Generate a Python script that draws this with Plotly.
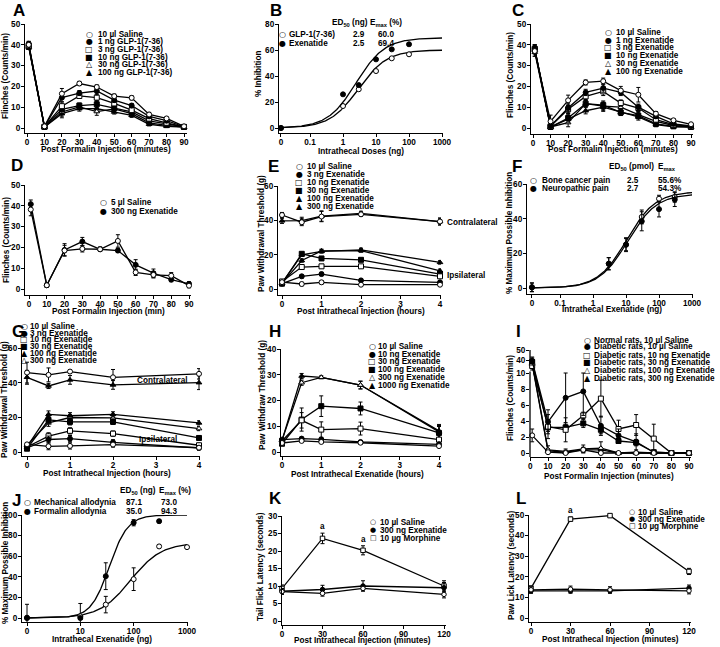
import numpy as np
import plotly.graph_objects as go

W, H = 720, 647
FONT = "Liberation Sans, Arial, Helvetica, sans-serif"
GFONT = "DejaVu Sans, Liberation Sans, sans-serif"
FS = 8.2

# ====================== DATA ======================
# --- A: GLP-1(7-36), formalin test ---
A_TIME = [1, 10, 20, 30, 40, 50, 60, 70, 80, 90]
A_LABELS = ["10 µl Saline", "1 ng GLP-1(7-36)", "3 ng GLP-1(7-36)",
            "10 ng GLP-1(7-36)", "30 ng GLP-1(7-36)", "100 ng GLP-1(7-36)"]
A_SALINE = [40.0, 0.8, 16.5, 21.4, 19.7, 15.3, 14.5, 6.5, 4.6, 0.8]
A_GLP1 = [40.5, 0.6, 14.6, 16.8, 17.8, 13.4, 10.8, 5.6, 3.5, 0.6]
A_GLP3 = [39.5, 0.6, 10.5, 15.4, 14.6, 11.8, 8.6, 4.5, 2.5, 0.5]
A_GLP10 = [39.0, 0.5, 9.0, 10.8, 11.4, 9.6, 7.7, 3.4, 1.8, 0.5]
A_GLP30 = [40.0, 0.5, 7.7, 10.1, 7.9, 9.2, 6.9, 2.5, 1.3, 0.4]
A_GLP100 = [39.0, 0.4, 6.9, 9.3, 9.3, 7.7, 6.1, 1.8, 0.8, 0.4]
A_SEM_SALINE = [1.5, 0.5, 2.5, 1.0, 1.0, 1.0, 1.0, 1.0, 0.6, 0.4]
A_SEM_GLP = [1.2, 0.4, 2.0, 1.2, 1.8, 1.0, 1.0, 0.8, 0.6, 0.4]

# --- B: dose response (formalin) ---
B_DOSE = [0, 1, 3, 10, 30, 100]
B_LABELS = ["GLP-1(7-36)", "Exenatide"]
B_GLP = [0, 16.9, 29.8, 43.8, 53.6, 56.7]
B_EXE = [0, 25.9, 33.0, 52.8, 60.5, 64.4]
B_ED50 = [2.9, 2.5]
B_EMAX = [60.0, 69.4]
B_HILL = [1.0, 1.0]

# --- C: exenatide, formalin test ---
C_TIME = [1, 10, 20, 30, 40, 50, 60, 70, 80, 90]
C_LABELS = ["10 µl Saline", "1 ng Exenatide", "3 ng Exenatide",
            "10 ng Exenatide", "30 ng Exenatide", "100 ng Exenatide"]
C_SALINE = [37.0, 3.2, 13.3, 21.9, 22.5, 18.0, 16.0, 6.9, 3.7, 1.8]
C_EX1 = [38.0, 1.0, 9.6, 17.1, 19.2, 17.1, 10.0, 5.6, 2.0, 1.0]
C_EX3 = [38.0, 0.8, 9.0, 15.2, 17.6, 12.0, 9.6, 4.0, 1.6, 0.8]
C_EX10 = [38.0, 0.5, 4.8, 11.7, 11.0, 7.5, 5.9, 2.0, 0.8, 0.5]
C_EX30 = [37.5, 0.5, 2.6, 11.7, 10.5, 10.0, 6.4, 3.2, 1.2, 0.5]
C_EX100 = [36.5, 0.4, 4.3, 8.3, 10.0, 7.5, 5.3, 1.6, 0.6, 0.4]
C_SEM_SALINE = [2.5, 3.0, 2.5, 1.2, 1.5, 2.0, 3.5, 1.0, 0.8, 0.5]
C_SEM_EX = [2.0, 1.0, 2.0, 1.5, 2.0, 1.5, 1.5, 1.0, 0.8, 0.5]

# --- D ---
D_TIME = [1, 10, 20, 30, 40, 50, 60, 70, 80, 90]
D_LABELS = ["5 µl Saline", "300 ng Exenatide"]
D_SALINE = [38.2, 1.8, 18.5, 19.3, 19.1, 23.1, 8.0, 6.8, 6.4, 1.6]
D_EXE = [40.8, 1.8, 18.8, 22.8, 19.1, 18.5, 11.6, 7.6, 4.5, 2.5]
D_SEM_SALINE = [3.0, 1.0, 2.5, 1.5, 1.0, 3.0, 1.5, 1.5, 1.5, 1.0]
D_SEM_EXE = [2.0, 1.0, 3.0, 2.0, 1.0, 1.0, 2.5, 2.0, 1.0, 1.0]

# --- E: bone cancer pain, von Frey ---
E_TIME = [0, 0.5, 1, 2, 4]
E_LABELS = ["10 µl Saline", "3 ng Exenatide", "10 ng Exenatide",
            "30 ng Exenatide", "100 ng Exenatide", "300 ng Exenatide"]
E_CONTRA_SALINE = [43.1, 38.9, 42.2, 43.5, 39.3]
E_CONTRA_EX300 = [39.7, 39.8, 42.5, 44.1, 39.3]
E_SEM_CONTRA = [1.5, 2.0, 3.0, 1.2, 2.0]
E_SALINE = [4.0, 2.9, 3.9, 2.5, 2.5]
E_EX3 = [3.1, 7.4, 8.7, 5.0, 3.9]
E_EX10 = [4.4, 12.8, 13.2, 13.2, 7.4]
E_EX30 = [3.1, 20.5, 17.8, 17.0, 8.7]
E_EX100 = [3.3, 16.6, 22.2, 22.4, 10.6]
E_EX300 = [3.5, 19.9, 21.9, 22.8, 15.5]
E_SEM_IPSI = [0.8, 1.0, 1.0, 1.0, 1.0]

# --- F: dose response (bone cancer / neuropathic) ---
F_DOSE = [0, 3, 10, 30, 100, 300]
F_LABELS = ["Bone cancer pain", "Neuropathic pain"]
F_BONE = [0.5, 14.0, 25.0, 41.0, 51.5, 52.5]
F_NEURO = [0.3, 14.0, 25.0, 38.5, 45.5, 51.0]
F_SEM_BONE = [2.5, 3.5, 3.5, 4.0, 2.0, 3.0]
F_SEM_NEURO = [2.5, 3.5, 4.0, 5.5, 4.5, 4.0]
F_ED50_PMOL = [2.5, 2.7]
F_EMAX = [55.6, 54.3]
F_HILL = [1.0, 1.0]
EXENATIDE_NG_PER_PMOL = 4.19

# --- G: neuropathic pain, von Frey ---
G_TIME = [0, 0.5, 1, 2, 4]
G_LABELS = E_LABELS
G_CONTRA_SALINE = [45.8, 44.5, 46.4, 43.1, 45.1]
G_CONTRA_EX100 = [43.1, 38.1, 41.6, 38.7, 40.0]
G_SEM_CONTRA_SAL = [6.0, 4.0, 1.0, 4.5, 3.0]
G_SEM_CONTRA_EX = [4.0, 1.5, 2.5, 2.5, 4.0]
G_SALINE = [4.4, 3.3, 3.5, 4.3, 2.5]
G_EX3 = [2.3, 7.2, 7.7, 5.6, 2.3]
G_EX10 = [2.9, 9.1, 12.2, 10.6, 3.9]
G_EX30 = [1.9, 18.5, 17.4, 17.4, 8.1]
G_EX100 = [2.9, 21.7, 20.9, 21.7, 16.8]
G_EX300 = [3.9, 16.8, 19.9, 19.7, 13.5]
G_SEM_IPSI = [1.0, 2.0, 1.8, 1.5, 1.2]

# --- H ---
H_TIME = [0, 0.5, 1, 2, 4]
H_LABELS = ["10 µl Saline", "10 ng Exenatide", "30 ng Exenatide",
            "100 ng Exenatide", "300 ng Exenatide", "1000 ng Exenatide"]
H_SALINE = [3.5, 4.3, 3.9, 3.6, 2.3]
H_EX10 = [4.8, 5.2, 4.9, 3.9, 3.0]
H_EX30 = [4.3, 12.3, 8.7, 9.1, 4.8]
H_EX100 = [3.2, 12.6, 17.8, 16.9, 7.4]
H_EX300 = [4.5, 26.9, 29.0, 26.0, 7.8]
H_EX1000 = [4.5, 29.5, 29.0, 26.0, 8.2]
H_SEM = [[0.5, 0.5, 0.5, 0.5, 0.5], [0.5, 0.5, 0.5, 0.5, 0.5],
         [0.5, 3.0, 3.0, 2.5, 2.5], [0.5, 4.5, 4.0, 2.5, 2.5],
         [0.5, 1.0, 0.5, 1.5, 2.5], [0.5, 1.0, 0.5, 1.5, 2.5]]

# --- I: diabetic rats, formalin ---
I_TIME = [1, 10, 20, 30, 40, 50, 60, 70, 80, 90]
I_LABELS = ["Normal rats, 10 µl Saline", "Diabetic rats, 10 µl Saline",
            "Diabetic rats, 10 ng Exenatide", "Diabetic rats, 30 ng Exenatide",
            "Diabetic rats, 100 ng Exenatide", "Diabetic rats, 300 ng Exenatide"]
I_NORMAL = [2.2, 0.1, 0.0, 0.4, 0.0, 0.0, 0.0, 0.0, 0.0, 0.0]
I_DIAB_SALINE = [39.0, 3.9, 6.9, 7.7, 3.4, 2.2, 1.4, 0.1, 0.0, 0.0]
I_EX10 = [34.0, 3.3, 2.9, 4.7, 6.8, 3.0, 3.5, 1.8, 0.0, 0.0]
I_EX30 = [38.0, 3.2, 3.2, 3.7, 2.9, 1.5, 1.3, 0.1, 0.0, 0.0]
I_EX100 = [37.0, 0.4, 0.2, 0.5, 0.6, 0.0, 0.1, 0.0, 0.0, 0.0]
I_EX300 = [36.0, 0.25, 0.1, 0.4, 0.4, 0.0, 0.0, 0.0, 0.0, 0.0]
I_SEM = [[0.8, 0.2, 0.2, 0.3, 0.2, 0, 0, 0, 0, 0],
         [4.0, 1.5, 3.1, 3.0, 1.2, 0.8, 1.0, 0.2, 0, 0],
         [4.0, 1.5, 1.5, 0.4, 2.3, 1.1, 1.3, 1.8, 0, 0],
         [4.0, 0.5, 0.4, 0.5, 0.5, 0.3, 0.4, 0.1, 0, 0],
         [4.0, 0.5, 0.3, 0.5, 0.8, 0, 0.1, 0, 0, 0],
         [4.0, 0.3, 0.2, 0.3, 0.3, 0, 0, 0, 0, 0]]

# --- J ---
J_LABELS = ["Mechanical allodynia", "Formalin allodynia"]
J_DOSE_MECH = [0, 10, 30, 100, 300, 1000]
J_MECH = [0.3, 1.6, 13.0, 37.7, 69.5, 68.8]
J_SEM_MECH = [13.0, 12.5, 8.0, 11.0, 1.5, 1.5]
J_DOSE_FORM = [0, 10, 30, 100, 300]
J_FORM = [0.0, 0.0, 40.6, 92.5, 94.0]
J_SEM_FORM = [1.0, 1.5, 13.0, 3.0, 1.5]
J_ED50 = [87.1, 35.0]
J_EMAX = [73.0, 94.3]
J_FIT_TOP = [73.0, 100.0]
J_HILL = [1.5, 2.5]

# --- K: tail flick ---
K_TIME = [0, 30, 60, 120]
K_LABELS = ["10 µl Saline", "300 ng Exenatide", "10 µg Morphine"]
K_SALINE = [8.4, 7.9, 9.3, 7.6]
K_EXE = [8.5, 9.0, 10.0, 9.5]
K_MORPH = [9.3, 23.6, 20.2, 10.0]
K_SEM = [[0.8, 0.8, 0.5, 1.0], [0.8, 1.2, 1.5, 1.5], [1.0, 1.5, 1.3, 1.5]]

# --- L: hot plate ---
L_TIME = [0, 30, 60, 120]
L_LABELS = K_LABELS
L_SALINE = [13.7, 14.0, 13.7, 13.2]
L_EXE = [13.2, 13.2, 13.2, 14.5]
L_MORPH = [14.5, 48.0, 49.7, 22.6]
L_SEM = [[1.5, 1.5, 1.5, 1.5], [1.2, 1.2, 1.2, 1.5], [1.0, 1.0, 0.5, 1.5]]

# ====================== STYLES ======================
OC, FC = ("circle", False), ("circle", True)
OS, FSQ = ("square", False), ("square", True)
OT, FT = ("triangle-up", False), ("triangle-up", True)
S6 = [OC, FC, OS, FSQ, OT, FT]
E_STY = [OC, FC, OS, FSQ, FT, FT]
G_STY = [OC, FC, OS, FSQ, FT, OT]
K_STY = [OC, FC, OS]
GLYPH = {OC: "○", FC: "●", OS: "□", FSQ: "■", OT: "△", FT: "▲"}

fig = go.Figure()
ANN, SHAPES = [], []


def names(k):
    s = "" if k == 1 else str(k)
    return "xaxis" + s, "yaxis" + s, "x" + s, "y" + s


def calib(p0, v0, p1, v1, d0, d1):
    s = (v1 - v0) / (p1 - p0)
    return [v0 + (d0 - p0) * s, v0 + (d1 - p0) * s]


def ticks(vals):
    vals = list(vals)
    return vals, [str(v) for v in vals]


def axes(k, xdom, ydom, xcal, ycal, xt, yt, xlog=False, yline=True):
    xa, ya, xr, yr = names(k)
    base = dict(showline=True, linecolor="black", linewidth=1.3, ticks="outside",
                ticklen=3, tickwidth=1.2, tickcolor="black", showgrid=False,
                zeroline=False, tickmode="array", fixedrange=True, automargin=False,
                tickfont=dict(family=FONT, size=FS, color="black", weight="bold"))
    fig.update_layout({
        xa: dict(base, domain=[xdom[0] / W, xdom[1] / W],
                 range=calib(*xcal, xdom[0], xdom[1]), anchor=yr, ticklabelstandoff=-2,
                 type="log" if xlog else "linear", tickvals=xt[0], ticktext=xt[1]),
        ya: dict(base, domain=[1 - ydom[1] / H, 1 - ydom[0] / H],
                 range=calib(*ycal, ydom[1], ydom[0]), anchor=xr, ticklabelstandoff=-1,
                 tickvals=yt[0], ticktext=yt[1], showline=yline),
    })


def series(k, x, y, style, err=None, errminus=None, size=5):
    _, _, xr, yr = names(k)
    sym, filled = style
    ey = dict(visible=False)
    if err is not None:
        ey = dict(type="data", array=list(err), color="black", thickness=1, width=2)
        if errminus is not None:
            ey.update(symmetric=False, arrayminus=list(errminus))
    fig.add_trace(go.Scatter(
        x=list(x), y=list(y), xaxis=xr, yaxis=yr, mode="lines+markers", cliponaxis=False,
        line=dict(color="black", width=1.3),
        marker=dict(symbol=sym, size=size, color="black" if filled else "white",
                    line=dict(color="black", width=1)),
        error_y=ey, showlegend=False, hoverinfo="skip"))


def points(k, x, y, style, err, size=5):
    _, _, xr, yr = names(k)
    sym, filled = style
    fig.add_trace(go.Scatter(
        x=list(x), y=list(y), xaxis=xr, yaxis=yr, mode="markers", cliponaxis=False,
        marker=dict(symbol=sym, size=size, color="black" if filled else "white",
                    line=dict(color="black", width=1)),
        error_y=dict(type="data", array=list(err), color="black", thickness=1, width=2),
        showlegend=False, hoverinfo="skip"))


def curve(k, x, y):
    _, _, xr, yr = names(k)
    fig.add_trace(go.Scatter(x=list(x), y=list(y), xaxis=xr, yaxis=yr, mode="lines",
                             line=dict(color="black", width=1.3), cliponaxis=False,
                             showlegend=False, hoverinfo="skip"))


def hill(x, top, ed50, n):
    x = np.asarray(x, dtype=float)
    return top * x ** n / (x ** n + ed50 ** n)


def text(x, y, s, size=FS, xanchor="left", yanchor="middle", angle=0, family=FONT):
    ANN.append(dict(x=x / W, y=1 - y / H, xref="paper", yref="paper", text=s,
                    showarrow=False, xanchor=xanchor, yanchor=yanchor, textangle=angle,
                    borderpad=0,
                    font=dict(family=family, size=size, color="black", weight="bold")))


def legend(sym_x, text_x, ys, labels, styles, gsize=8):
    for y, lab, st in zip(ys, labels, styles):
        text(sym_x, y, GLYPH[st], size=gsize, xanchor="center", family=GFONT)
        text(text_x, y, lab)


def frame(letter, lxy, xt, xxy, yt, yxy):
    text(lxy[0], lxy[1], letter, size=17, xanchor="center")
    text(xxy[0], xxy[1], xt, xanchor="center")
    text(yxy[0], yxy[1], yt, xanchor="center", angle=-90)


def zero_at(doses, pos):
    return [pos if d == 0 else d for d in doses]


T90 = ticks(range(0, 91, 10))

# ---------------- A ----------------
axes(1, (25, 187), (24, 133), (27, 0, 184, 90), (128, 0, 24, 50), T90, ticks(range(0, 51, 10)))
A_ALL = [A_SALINE, A_GLP1, A_GLP3, A_GLP10, A_GLP30, A_GLP100]
for i in reversed(range(6)):
    series(1, A_TIME, A_ALL[i], S6[i], A_SEM_SALINE if i == 0 else A_SEM_GLP)
legend(89, 97, [34, 41.7, 49.3, 57, 64.7, 72.3], A_LABELS, S6)
frame("A", (19, 10), "Post Formalin Injection (minutes)", (106, 150),
      "Flinches (Counts/min)", (6, 76))

# ---------------- B ----------------
B_ZERO = 10 ** -1.88
axes(2, (279, 443), (24, 133), (310, -1, 442, 3), (128, 0, 24, 80),
     ([B_ZERO, 0.1, 1, 10, 100, 1000], ["0", "0.1", "1", "10", "100", "1000"]),
     ticks(range(0, 81, 20)), xlog=True)
bx = np.logspace(np.log10(B_ZERO), 3, 200)
for i, ys in enumerate([B_GLP, B_EXE]):
    curve(2, bx, hill(bx, B_EMAX[i], B_ED50[i], B_HILL[i]))
    points(2, zero_at(B_DOSE, B_ZERO), ys, [OC, FC][i], [0.8] * len(ys))
text(331, 23, "ED<sub>50</sub> (ng)")
text(369, 23, "E<sub>max</sub> (%)")
legend(282, 288, [34, 43], B_LABELS, [OC, FC])
for i, y in enumerate([34, 43]):
    text(352, y, f"{B_ED50[i]}")
    text(377, y, f"{B_EMAX[i]:.1f}")
frame("B", (276, 10), "Intrathecal Doses (ng)", (361, 151), "% Inhibition", (258, 74))

# ---------------- C ----------------
axes(3, (531, 693), (24, 134), (533, 0, 691, 90), (128, 0, 24, 50), T90, ticks(range(0, 51, 10)))
C_ALL = [C_SALINE, C_EX1, C_EX3, C_EX10, C_EX30, C_EX100]
for i in reversed(range(6)):
    series(3, C_TIME, C_ALL[i], S6[i], C_SEM_SALINE if i == 0 else C_SEM_EX)
legend(608, 615, [32.3, 40, 47.7, 55.3, 63.3, 71.3], C_LABELS, S6)
frame("C", (518, 10), "Post Formalin Injection (minutes)", (613, 150),
      "Flinches (Counts/min)", (511, 75))

# ---------------- D ----------------
axes(4, (25, 191), (185, 295), (29, 0, 189, 90), (289, 0, 185, 50), T90, ticks(range(0, 51, 10)))
series(4, D_TIME, D_EXE, FC, D_SEM_EXE)
series(4, D_TIME, D_SALINE, OC, D_SEM_SALINE)
legend(103, 110, [202.7, 211], D_LABELS, [OC, FC])
frame("D", (17, 165), "Post Formalin Injection (min)", (108, 311),
      "Flinches (Counts/min)", (6, 240))

# ---------------- E ----------------
axes(5, (278, 441), (186, 295), (282, 0, 440, 4), (289, 0, 186, 60),
     ticks(range(0, 5)), ticks(range(0, 61, 20)))
series(5, E_TIME, E_CONTRA_EX300, FT, E_SEM_CONTRA)
series(5, E_TIME, E_CONTRA_SALINE, OC, E_SEM_CONTRA)
E_ALL = [E_SALINE, E_EX3, E_EX10, E_EX30, E_EX100, E_EX300]
for i in reversed(range(6)):
    series(5, E_TIME, E_ALL[i], E_STY[i], E_SEM_IPSI)
legend(299, 306, [166.7, 174.7, 182.7, 190.7, 198.7, 206.3], E_LABELS, E_STY)
text(446, 222, "Contralateral")
text(446, 275, "Ipsilateral")
frame("E", (273, 167), "Post Intrathecal Injection (hours)", (361, 311),
      "Paw Withdrawal Threshold (g)", (261, 234))

# ---------------- F ----------------
F_ZERO = 10 ** -1.85
axes(6, (527, 693), (184, 294), (560, -1, 692, 3), (288, 0, 184, 60),
     ([F_ZERO, 0.1, 1, 10, 100, 1000], ["0", "0.1", "1", "10", "100", "1000"]),
     ticks(range(0, 61, 20)), xlog=True)
fx = np.logspace(np.log10(F_ZERO), 3, 200)
for i, (ys, es) in enumerate([(F_BONE, F_SEM_BONE), (F_NEURO, F_SEM_NEURO)]):
    curve(6, fx, hill(fx, F_EMAX[i], F_ED50_PMOL[i] * EXENATIDE_NG_PER_PMOL, F_HILL[i]))
    points(6, zero_at(F_DOSE, F_ZERO), ys, [OC, FC][i], es)
text(608, 167, "ED<sub>50</sub> (pmol)")
text(657, 167, "E<sub>max</sub>")
legend(533, 541, [181, 188.5], F_LABELS, [OC, FC])
for i, y in enumerate([181, 188.5]):
    text(626, y, f"{F_ED50_PMOL[i]}")
    text(657, y, f"{F_EMAX[i]:.1f}%")
frame("F", (517, 166), "Intrathecal Exenatide (ng)", (612, 309),
      "% Maximum Possible Inhibition", (509, 233))

# ---------------- G ----------------
axes(7, (22, 200), (348, 456), (27, 0, 199, 4), (452, 0, 348, 60),
     ticks(range(0, 5)), ticks(range(0, 61, 20)))
series(7, G_TIME, G_CONTRA_EX100, FT, G_SEM_CONTRA_EX)
series(7, G_TIME, G_CONTRA_SALINE, OC, G_SEM_CONTRA_SAL)
G_ALL = [G_SALINE, G_EX3, G_EX10, G_EX30, G_EX100, G_EX300]
for i in reversed(range(6)):
    series(7, G_TIME, G_ALL[i], G_STY[i], G_SEM_IPSI)
legend(24.5, 29, [326, 333, 339.5, 346, 353, 360], G_LABELS, G_STY)
text(136, 380, "Contralateral")
text(138, 439, "Ipsilateral")
frame("G", (18, 331), "Post Intrathecal Injection (hours)", (107, 473),
      "Paw Withdrawal Threshold (g)", (4, 400))

# ---------------- H ----------------
axes(8, (281, 441), (349, 456), (282, 0, 439, 4), (452, 0, 349, 40),
     ticks(range(0, 5)), ticks(range(0, 41, 10)))
H_ALL = [H_SALINE, H_EX10, H_EX30, H_EX100, H_EX300, H_EX1000]
for i in reversed(range(6)):
    series(8, H_TIME, H_ALL[i], S6[i], H_SEM[i])
legend(372, 377, [346, 354, 361, 369, 377, 385], H_LABELS, S6)
frame("H", (275, 331), "Post Intrathecal Exenatide (hours)", (357, 474),
      "Paw Withdraw Threshold (g)", (262, 395))


# ---------------- I (broken y axis) ----------------
def i_disp(v):
    return v if v <= 10 else 11.625 + (v - 40) * 0.125


def i_errs(vals, sems):
    up, dn = [], []
    for v, e in zip(vals, sems):
        d = i_disp(v)
        top = v + e if v > 10 else min(v + e, 10)
        up.append(i_disp(top) - d)
        bot = v - e if v > 10 else max(v - e, 0)
        dn.append(d - i_disp(bot))
    return up, dn


axes(9, (530, 691), (348, 457), (530.4, 0, 689, 90), (453, 0, 373, 10), T90,
     ([0, 2, 4, 6, 8, 10, i_disp(40), i_disp(50)], ["0", "2", "4", "6", "8", "10", "40", "50"]),
     yline=False)
I_ALL = [I_NORMAL, I_DIAB_SALINE, I_EX10, I_EX30, I_EX100, I_EX300]
for i in reversed(range(6)):
    up, dn = i_errs(I_ALL[i], I_SEM[i])
    series(9, I_TIME, [i_disp(v) for v in I_ALL[i]], S6[i], up, dn)
for y0, y1 in [(-0.5, 10.2), (11.1, i_disp(50))]:
    SHAPES.append(dict(type="line", xref="x9 domain", yref="y9", x0=0, x1=0, y0=y0, y1=y1,
                       line=dict(color="black", width=1.3)))
legend(587, 593, [340, 347, 355, 362, 370, 378], I_LABELS, S6)
frame("I", (518, 331), "Post Formalin Injection (minutes)", (609, 476),
      "Flinches (Counts/min)", (511, 398))

# ---------------- J ----------------
J_ZERO = 1
axes(10, (22, 188), (515, 622), (27, 0, 187, 3), (618, 0, 515, 100),
     ([J_ZERO, 10, 100, 1000], ["0", "10", "100", "1000"]), ticks(range(0, 101, 20)), xlog=True)
jx = np.logspace(0, 3, 200)
for i in range(2):
    curve(10, jx, hill(jx, J_FIT_TOP[i], J_ED50[i], J_HILL[i]))
points(10, zero_at(J_DOSE_MECH, J_ZERO), J_MECH, OC, J_SEM_MECH)
points(10, zero_at(J_DOSE_FORM, J_ZERO), J_FORM, FC, J_SEM_FORM)
text(119, 491, "ED<sub>50</sub> (ng)")
text(158, 491, "E<sub>max</sub> (%)")
legend(27, 33, [503, 511], J_LABELS, [OC, FC])
for i, y in enumerate([503, 511]):
    text(125, y, f"{J_ED50[i]}")
    text(160, y, f"{J_EMAX[i]:.1f}")
frame("J", (16, 500), "Intrathecal Exenatide (ng)", (102, 639),
      "% Maximum Possible Inhibition", (5, 563))

# ---------------- K ----------------
axes(11, (282, 446), (516, 625), (282, 0, 444, 120), (621, 0, 516, 30),
     ticks(range(0, 121, 30)), ticks(range(0, 31, 5)))
K_ALL = [K_SALINE, K_EXE, K_MORPH]
for i in reversed(range(3)):
    series(11, K_TIME, K_ALL[i], K_STY[i], K_SEM[i], size=4.5)
for j in (1, 2):
    ANN.append(dict(x=K_TIME[j], y=K_MORPH[j] + K_SEM[2][j], xref="x11", yref="y11", text="a",
                    showarrow=False, yanchor="bottom", yshift=1, borderpad=0,
                    font=dict(family=FONT, size=FS, color="black", weight="bold")))
legend(373, 379, [522, 530, 538], K_LABELS, K_STY, gsize=7)
frame("K", (275, 498), "Post Intrathecal Injection (minutes)", (362, 640),
      "Tail Flick Latency (seconds)", (260, 567))

# ---------------- L ----------------
axes(12, (529, 691), (515, 622), (531, 0, 689, 120), (618, 0, 515, 50),
     ticks(range(0, 121, 30)), ticks(range(0, 51, 10)))
L_ALL = [L_SALINE, L_EXE, L_MORPH]
for i in reversed(range(3)):
    series(12, L_TIME, L_ALL[i], K_STY[i], L_SEM[i], size=4.5)
for j in (1, 2):
    ANN.append(dict(x=L_TIME[j], y=L_MORPH[j] + L_SEM[2][j], xref="x12", yref="y12", text="a",
                    showarrow=False, yanchor="bottom", yshift=1, borderpad=0,
                    font=dict(family=FONT, size=FS, color="black", weight="bold")))
legend(632, 637, [512, 519, 526], L_LABELS, K_STY, gsize=7)
frame("L", (521, 498), "Post Intrathecal Injection (minutes)", (610, 639),
      "Paw Lick Latency (seconds)", (511, 566))

fig.update_layout(width=W, height=H, margin=dict(l=0, r=0, t=0, b=0, autoexpand=False),
                  paper_bgcolor="white", plot_bgcolor="white", showlegend=False,
                  font=dict(family=FONT, size=FS, color="black"),
                  annotations=ANN, shapes=SHAPES)
fig.write_html("out.html", config={"displayModeBar": False},
               post_script="document.body.style.margin='0';document.body.style.overflow='hidden';")
